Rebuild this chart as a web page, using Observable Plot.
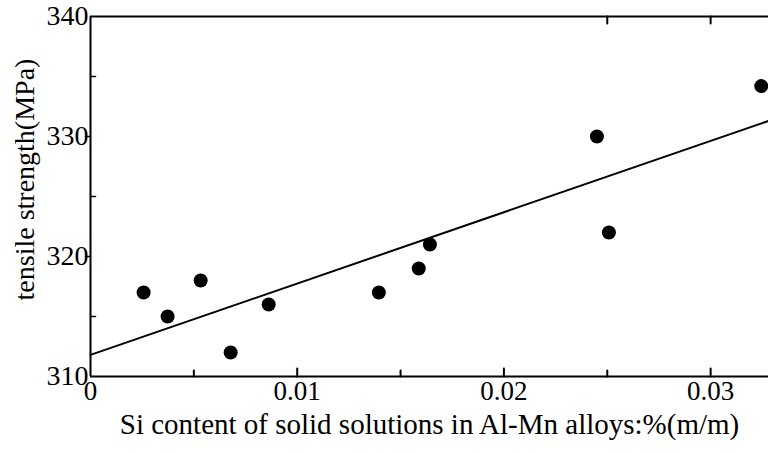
<!DOCTYPE html>
<html><head><meta charset="utf-8">
<script src="https://cdn.jsdelivr.net/npm/d3@7"></script>
<script src="https://cdn.jsdelivr.net/npm/@observablehq/plot@0.6"></script>
<style>body{margin:0;background:#fff}</style>
</head><body><div id="chart"></div>
<script>
const siContent = [0.00257, 0.00373, 0.00533, 0.00678, 0.00862, 0.01395, 0.01588, 0.01642, 0.0245, 0.02508, 0.03245];
const strength = [317, 315, 318, 312, 316, 317, 319, 321, 330, 322, 334.2];
const fitX = [0, 0.0328];
const fitY = [311.8, 331.3];
const xMajor = [0, 0.01, 0.02, 0.03];
const xMinor = [0.005, 0.015, 0.025];
const yMajor = [310, 320, 330, 340];
const yMinor = [315, 325, 335];
const xTitle = "Si content of solid solutions in Al-Mn alloys:%(m/m)";
const yTitle = "tensile strength(MPa)";

const points = siContent.map((x, i) => ({x, y: strength[i]}));
const fit = fitX.map((x, i) => ({x, y: fitY[i]}));
const line = {draw(ctx, l) { ctx.moveTo(0, 0); ctx.lineTo(0, -l); }};
const font = "Liberation Serif";

const chart = Plot.plot({
  width: 768, height: 452,
  marginLeft: 90, marginRight: 0, marginTop: 16, marginBottom: 76,
  style: {fontFamily: font, fontSize: "28px", color: "#000", background: "#fff"},
  x: {domain: [0, 0.0328]},
  y: {domain: [310, 340]},
  marks: [
    Plot.ruleX([0], {stroke: "#000", strokeWidth: 2}),
    Plot.ruleY([310, 340], {stroke: "#000", strokeWidth: 2}),
    Plot.vector(xMajor.slice(1), {x: d => d, y: () => 310, length: 8, rotate: 0, anchor: "start", shape: line, strokeWidth: 2}),
    Plot.vector(xMinor, {x: d => d, y: () => 310, length: 6, rotate: 0, anchor: "start", shape: line, strokeWidth: 2}),
    Plot.vector(xMinor.slice(2).concat([0.03]), {x: d => d, y: () => 340, length: 7, rotate: 180, anchor: "start", shape: line, strokeWidth: 2}),
    Plot.vector(yMinor, {x: () => 0, y: d => d, length: 5, rotate: 90, anchor: "start", shape: line, strokeWidth: 1.5}),
    Plot.vector(yMajor.slice(1, 3), {x: () => 0, y: d => d, length: 5, rotate: -90, anchor: "start", shape: line, strokeWidth: 1.5}),
    Plot.axisX(xMajor, {anchor: "bottom", tickSize: 0, tickPadding: 4, tickFormat: d => d === 0 ? "0" : d.toFixed(2), fontSize: 27, label: null}),
    Plot.axisX({anchor: "bottom", ticks: [], tickSize: 0, fontSize: 29,
      label: xTitle, labelAnchor: "center", labelArrow: "none", labelOffset: 57}),
    Plot.axisY(yMajor, {anchor: "left", tickSize: 0, tickPadding: 2, fontSize: 28, label: null}),
    Plot.text([yTitle], {frameAnchor: "left", rotate: -90, dx: -65, dy: -17, fontSize: 28, textAnchor: "middle", lineAnchor: "middle"}),
    Plot.line(fit, {x: "x", y: "y", stroke: "#000", strokeWidth: 2}),
    Plot.dot(points, {x: "x", y: "y", r: 7, fill: "#000", stroke: "none"})
  ]
});
document.getElementById("chart").appendChild(chart);
</script>
</body></html>
